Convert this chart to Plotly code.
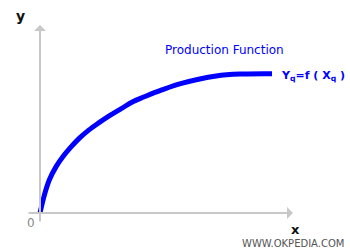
import plotly.graph_objects as go

# Production function curve: input X (0..10) -> output Y (0..10)
input_x = [0, 0.2, 0.4, 0.7, 1.0, 1.3, 1.7, 2.1, 2.5, 3.0, 3.5, 4.0, 4.5, 5.25, 6.1, 7.6, 8.75, 10.0]
output_y = [0, 1.35, 2.36, 3.33, 4.05, 4.65, 5.35, 5.92, 6.4, 6.95, 7.45, 7.95, 8.3, 8.79, 9.26, 9.79, 9.93, 9.95]

W, H = 350, 250
# pixel mapping: origin at (40,213), X=10 at px 272, Y=10 at py 73
sx = (272 - 40) / 10.0
sy = (213 - 73) / 10.0
xr = [(0 - 40) / sx, (W - 40) / sx]
yr = [(213 - H) / sy, (213 - 0) / sy]

def px(p):
    return (p - 40) / sx

def py(p):
    return (213 - p) / sy

fig = go.Figure()
fig.add_trace(go.Scatter(
    x=input_x, y=output_y, mode="lines",
    line=dict(color="#0000FF", width=5, shape="spline", smoothing=1.0),
    hoverinfo="skip", showlegend=False,
))

axis_col = "#C8C8C8"
annots = [
    # y axis arrow
    dict(x=px(40), y=py(25), ax=px(40), ay=py(223), xref="x", yref="y", axref="x", ayref="y",
         showarrow=True, arrowhead=1, arrowsize=1, arrowwidth=2, arrowcolor=axis_col, text=""),
    # x axis arrow
    dict(x=px(293), y=py(213), ax=px(27), ay=py(213), xref="x", yref="y", axref="x", ayref="y",
         showarrow=True, arrowhead=1, arrowsize=1, arrowwidth=2, arrowcolor=axis_col, text=""),
]

def txt(t, x, y, size, color, xanchor="center", family="DejaVu Sans"):
    return dict(text=t, x=x / W, y=1 - y / H, xref="paper", yref="paper", showarrow=False,
                xanchor=xanchor, yanchor="middle",
                font=dict(family=family, size=size, color=color))

annots += [
    txt("<b>y</b>", 20, 16, 14, "#111111"),
    txt("<b>x</b>", 295, 229, 13, "#111111"),
    txt("0", 31, 223, 12, "#888888"),
    txt("WWW.OKPEDIA.COM", 346, 243, 10, "#555555", xanchor="right"),
    txt("Production Function", 224, 50, 12, "#0000FF"),
    txt("<b>Y<sub>q</sub>=f ( X<sub>q</sub> )</b>", 279, 76, 11, "#0000FF", xanchor="left"),
]

fig.update_layout(
    width=W, height=H, margin=dict(l=0, r=0, t=0, b=0),
    paper_bgcolor="white", plot_bgcolor="white",
    xaxis=dict(range=xr, visible=False, fixedrange=True),
    yaxis=dict(range=yr, visible=False, fixedrange=True),
    annotations=annots, showlegend=False,
)
fig.write_html("out.html")
